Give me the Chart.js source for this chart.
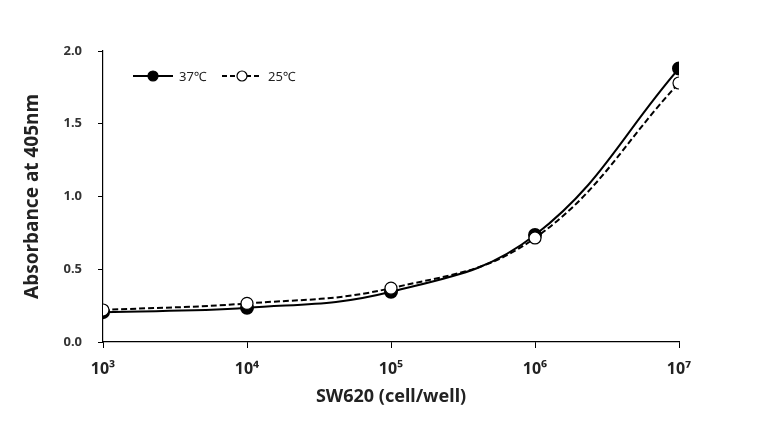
<!DOCTYPE html>
<html>
<head>
<meta charset="utf-8">
<script src="https://cdn.jsdelivr.net/npm/chart.js@4"></script>
<style>
  html, body { margin: 0; padding: 0; background: #fff; }
  #wrap { width: 766px; height: 422px; position: relative; }
</style>
</head>
<body>
<div id="wrap"><canvas id="absChart"></canvas></div>
<script>
// --- DATA ---
// x = log10(cells per well)
const cellExp = [3, 4, 5, 6, 7];
const tickLabels = ["10\u00B3", "10\u2074", "10\u2075", "10\u2076", "10\u2077"];
const abs37 = [0.205, 0.235, 0.345, 0.735, 1.88];
const abs25 = [0.22, 0.265, 0.37, 0.715, 1.78];
const seriesNames = ["37\u2103", "25\u2103"];

const toPoints = (vals) => vals.map((v, i) => ({ x: cellExp[i], y: v }));

// legend drawn inside the plot, top-left
const innerLegend = {
  id: "innerLegend",
  afterDraw(chart) {
    const c = chart.ctx;
    const y = 76;
    const items = [
      { x0: 133, name: seriesNames[0], dash: [], fill: "#000" },
      { x0: 222, name: seriesNames[1], dash: [5, 3], fill: "#fff" },
    ];
    c.save();
    items.forEach((it) => {
      c.strokeStyle = "#000";
      c.lineWidth = 2;
      c.setLineDash(it.dash);
      c.beginPath();
      c.moveTo(it.x0, y);
      c.lineTo(it.x0 + 40, y);
      c.stroke();
      c.setLineDash([]);
      c.beginPath();
      c.arc(it.x0 + 20, y, 5, 0, Math.PI * 2);
      c.fillStyle = it.fill;
      c.fill();
      c.lineWidth = 1.2;
      c.stroke();
      c.fillStyle = "#222";
      c.font = "13px 'Noto Sans'";
      c.textBaseline = "middle";
      c.fillText(it.name, it.x0 + 46, y + 1);
    });
    c.restore();
  },
};

function initChart() {
  const ctx = document.getElementById("absChart");
  new Chart(ctx, {
    type: "line",
    data: {
      datasets: [
        {
          label: seriesNames[1],
          data: toPoints(abs25),
          borderColor: "#000",
          borderWidth: 2,
          borderDash: [6, 3],
          backgroundColor: "#fff",
          pointBackgroundColor: "#fff",
          pointBorderColor: "#000",
          pointBorderWidth: 1.2,
          pointRadius: 6,
          tension: 0.4,
        },
        {
          label: seriesNames[0],
          data: toPoints(abs37),
          borderColor: "#000",
          borderWidth: 2,
          backgroundColor: "#000",
          pointBackgroundColor: "#000",
          pointBorderColor: "#000",
          pointRadius: 6,
          tension: 0.4,
        },
      ],
    },
    options: {
      responsive: true,
      maintainAspectRatio: false,
      animation: false,
      layout: { padding: { top: 51, right: 87, left: 0, bottom: 0 } },
      plugins: { legend: { display: false }, tooltip: { enabled: false } },
      scales: {
        x: {
          type: "linear",
          min: 3,
          max: 7,
          afterFit: (s) => { s.height = 80; },
          afterBuildTicks: (s) => { s.ticks = cellExp.map((v) => ({ value: v })); },
          ticks: {
            callback: (v) => tickLabels[cellExp.indexOf(v)],
            color: "#222",
            font: { family: "'Noto Sans'", size: 16, weight: "bold" },
            padding: 12,
            maxRotation: 0,
          },
          grid: { drawOnChartArea: false, drawTicks: true, tickLength: 6, color: "#000" },
          border: { color: "#000", width: 1.2 },
          title: {
            display: true,
            text: "SW620 (cell/well)",
            color: "#222",
            font: { family: "'Noto Sans'", size: 18, weight: "bold" },
            padding: { top: 4, bottom: 14 },
          },
        },
        y: {
          min: 0,
          max: 2,
          afterFit: (s) => { s.width = 103; },
          ticks: {
            stepSize: 0.5,
            callback: (v) => v.toFixed(1),
            color: "#333",
            font: { family: "'Noto Sans'", size: 13, weight: "bold" },
            padding: 16,
          },
          grid: { drawOnChartArea: false, drawTicks: true, tickLength: 5, color: "#000" },
          border: { color: "#000", width: 1.2 },
          title: {
            display: true,
            text: "Absorbance at 405nm",
            color: "#222",
            font: { family: "'Noto Sans'", size: 19, weight: "bold" },
            padding: { top: 21, bottom: 0 },
          },
        },
      },
    },
    plugins: [innerLegend],
  });
}

document.addEventListener("DOMContentLoaded", initChart);
</script>
</body>
</html>
